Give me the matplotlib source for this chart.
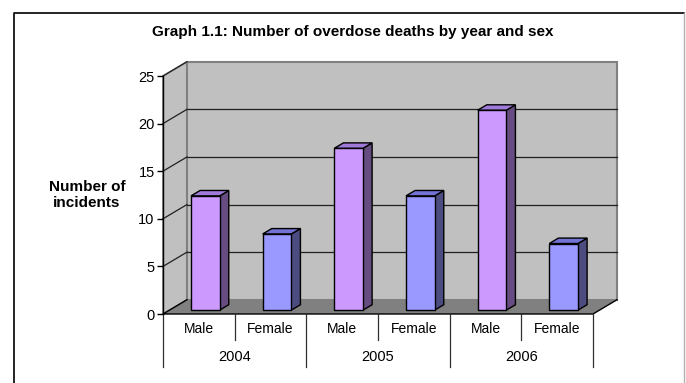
import numpy as np
import matplotlib
matplotlib.use('Agg')
import matplotlib.pyplot as plt
from matplotlib.patches import Polygon, Rectangle
from matplotlib.lines import Line2D

plt.rcParams['font.family'] = ['Liberation Sans', 'DejaVu Sans']

years = ['2004', '2005', '2006']
sexes = ['Male', 'Female']
male = [12, 17, 21]
female = [8, 12, 7]

# oblique depth of the box, in data units (x: categories, y: counts)
DX, DY = 0.335, 1.5
# bars sit between these fractions of the depth
F1, F2 = 0.27, 0.65
BAR_W = 0.4
YMAX = 25

face = {'Male': '#CC99FF', 'Female': '#9999FF'}
side = {'Male': '#664C80', 'Female': '#4C4C80'}
top = {'Male': '#A07AD8', 'Female': '#7373D6'}

W, H = 686, 383
fig = plt.figure(figsize=(W / 100, H / 100), dpi=100)
ax = fig.add_axes([163 / W, (H - 314) / H, 430 / W, 238 / H])
ax.set_facecolor('none')
ax.set_xlim(0, 6)
ax.set_ylim(0, YMAX)
for s in ['top', 'right', 'bottom']:
    ax.spines[s].set_visible(False)
ax.spines['left'].set_linewidth(1.0)
ax.set_xticks([])
ax.set_yticks(np.arange(0, YMAX + 1, 5))
ax.tick_params(axis='y', direction='out', length=4, width=1, labelsize=10.5, pad=2)

n = len(years) * len(sexes)

# walls and floor
ax.add_patch(Polygon([(0, 0), (0, YMAX), (DX, YMAX + DY), (DX, DY)], closed=True,
                     facecolor='#C0C0C0', edgecolor='#808080', lw=1.2, zorder=0, clip_on=False))
ax.add_patch(Rectangle((DX, DY), n, YMAX, facecolor='#C0C0C0', edgecolor='#808080',
                       lw=1.5, zorder=0, clip_on=False))
for v in range(5, YMAX + 1, 5):
    ax.plot([0, DX], [v, v + DY], color='#202020', lw=0.9, zorder=1, clip_on=False)
    if v < YMAX:
        ax.plot([DX, n + DX], [v + DY, v + DY], color='#202020', lw=0.9, zorder=1, clip_on=False)
ax.add_patch(Polygon([(0, 0), (n, 0), (n + DX, DY), (DX, DY)], closed=True,
                     facecolor='#808080', edgecolor='none', zorder=1, clip_on=False))
ax.plot([DX, 0, n, n + DX], [DY, 0, 0, DY], color='black', lw=1.0, zorder=2, clip_on=False)

# bars
vals = []
for m, f in zip(male, female):
    vals += [('Male', m), ('Female', f)]
for i, (sex, v) in enumerate(vals):
    x0 = i + 0.5 - BAR_W / 2 + F1 * DX
    y0 = F1 * DY
    ox, oy = (F2 - F1) * DX, (F2 - F1) * DY
    kw = dict(edgecolor='black', lw=1.0, zorder=3, clip_on=False)
    ax.add_patch(Polygon([(x0 + BAR_W, y0), (x0 + BAR_W + ox, y0 + oy),
                          (x0 + BAR_W + ox, y0 + v + oy), (x0 + BAR_W, y0 + v)],
                         closed=True, facecolor=side[sex], **kw))
    ax.add_patch(Polygon([(x0, y0 + v), (x0 + BAR_W, y0 + v),
                          (x0 + BAR_W + ox, y0 + v + oy), (x0 + ox, y0 + v + oy)],
                         closed=True, facecolor=top[sex], **kw))
    ax.add_patch(Rectangle((x0, y0), BAR_W, v, facecolor=face[sex], **kw))

# two-level category labels under the floor
tr = ax.get_xaxis_transform()
for i, (sex, v) in enumerate(vals):
    ax.text(i + 0.5, -0.063, sex, transform=tr, ha='center', va='center', fontsize=10)
for j, yr in enumerate(years):
    ax.text(2 * j + 1, -0.181, yr, transform=tr, ha='center', va='center', fontsize=10.5)
for k in range(n + 1):
    bottom = -0.223 if k % 2 == 0 else -0.109
    ax.plot([k, k], [0, bottom], transform=tr, color='#303030', lw=0.9, clip_on=False)

ax.text(-0.177, 0.5, 'Number of\nincidents', transform=ax.transAxes, ha='center', va='center',
        fontsize=11, fontweight='bold', linespacing=1.25)

fig.text(353 / W, 1 - 32 / H, 'Graph 1.1: Number of overdose deaths by year and sex',
         ha='center', va='center', fontsize=11, fontweight='bold')

# chart border
fig.add_artist(Line2D([14 / W, 14 / W, 684 / W], [0, 1 - 13 / H, 1 - 13 / H],
                      transform=fig.transFigure, color='black', lw=1.2))
fig.add_artist(Line2D([684 / W, 684 / W], [1 - 13 / H, 0],
                      transform=fig.transFigure, color='#B0B0B0', lw=1.0))

fig.savefig('out.png', dpi=100)
